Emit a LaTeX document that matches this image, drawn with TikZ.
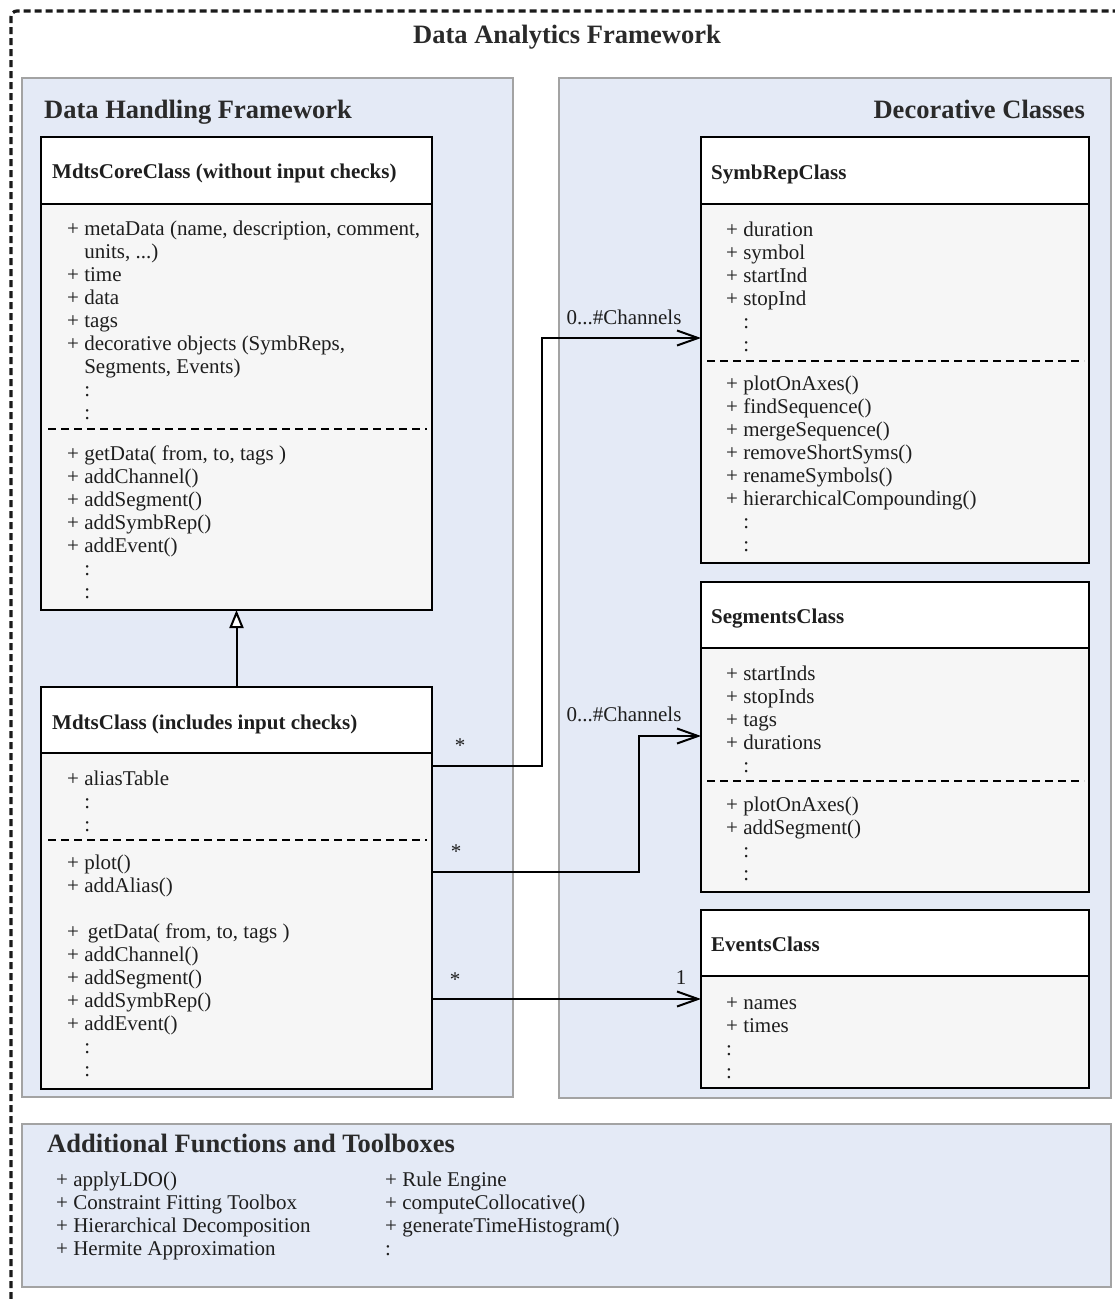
\documentclass[tikz,border=0pt]{standalone}
\usepackage{fontspec}
\setmainfont{Liberation Serif}
\usetikzlibrary{arrows.meta}

\definecolor{panelfill}{HTML}{E4EAF6}
\definecolor{panelline}{HTML}{A3A3A3}
\definecolor{bodyfill}{HTML}{F6F6F6}
\definecolor{ink}{HTML}{1E1E1E}
\definecolor{titleink}{HTML}{2A2A2A}
\definecolor{frameink}{HTML}{1A1A1A}

% blank space the width of "+ ", for continuation lines
\newcommand\hangplus{\phantom{+\ }}
% three full stops, kept out of \foreach's range syntax
\newcommand\tripledot{...}

\tikzset{
  panel/.style={draw=panelline, line width=1.5pt, fill=panelfill, anchor=north west, inner sep=0pt, outer sep=0pt},
  classbox/.style={draw=black, line width=2.4pt, fill=bodyfill, anchor=north west, inner sep=0pt, outer sep=0pt},
  classhead/.style={draw=black, line width=2.4pt, fill=white, anchor=north west, inner sep=0pt, outer sep=0pt},
  txt/.style={font=\fontsize{21}{23}\selectfont, text=ink, anchor=base west, inner sep=0pt},
  headtxt/.style={font=\fontsize{21}{23}\selectfont\bfseries, text=ink, anchor=base west, inner sep=0pt},
  bigtitle/.style={font=\fontsize{26.5}{30}\selectfont\bfseries, text=titleink, inner sep=0pt},
  multlabel/.style={font=\fontsize{21}{23}\selectfont, text=ink, anchor=base, inner sep=0pt},
  compsep/.style={line width=2pt, dash pattern=on 8pt off 5pt},
  assoc/.style={line width=2pt, -{Straight Barb[length=21pt,width=15pt]}},
  inherit/.style={line width=2pt, -{Triangle[open,length=18pt,width=14pt,fill=white]}},
  outerframe/.style={draw=frameink, line width=3.2pt, dash pattern=on 7pt off 4pt, rounded corners=6pt},
}

% member lines: name prefix, x, first baseline, list of lines
\newcommand\memberlines[4]{%
  \foreach \t [count=\i from 0] in {#4}
    \node[txt] (#1\i) at (#2,{#3+23*\i}) {\t};}

\begin{document}
\begin{tikzpicture}[x=1pt,y=-1pt]
\useasboundingbox (0,0) rectangle (1115,1299);
\fill[white] (0,0) rectangle (1115,1299);

% framework frame and title
\draw[outerframe] (11,1299) -- (11,11) -- (1115,11);
\node[bigtitle, anchor=base] (maintitle) at (567,43) {Data Analytics Framework};

% panels
\node[panel, minimum width=491pt, minimum height=1019pt] (leftpanel) at (22,78) {};
\node[panel, minimum width=552pt, minimum height=1020pt] (rightpanel) at (559,78) {};
\node[panel, minimum width=1089pt, minimum height=163pt] (extrapanel) at (22,1124) {};

\node[bigtitle, anchor=base west] (lefttitle) at (44,118) {Data Handling Framework};
\node[bigtitle, anchor=base east] (righttitle) at (1085,118) {Decorative Classes};
\node[bigtitle, anchor=base west] (extratitle) at (47,1152) {Additional Functions and Toolboxes};

% ---------------- MdtsCoreClass
\node[classbox, minimum width=391pt, minimum height=473pt] (core) at (41,137) {};
\node[classhead, minimum width=391pt, minimum height=67pt] (corehead) at (41,137) {};
\node[headtxt] (coretitle) at (52,178) {MdtsCoreClass (without input checks)};
\memberlines{corea}{67}{235}{{+ metaData (name, description, comment,},{\hangplus units, \tripledot)},{+ time},{+ data},{+ tags},{+ decorative objects (SymbReps,},{\hangplus Segments, Events)},{\hangplus :},{\hangplus :}}
\draw[compsep] ([xshift=7pt,yshift=-292pt]core.north west) -- ([xshift=-5pt,yshift=-292pt]core.north east);
\memberlines{corem}{67}{460}{{+ getData( from, to, tags )},{+ addChannel()},{+ addSegment()},{+ addSymbRep()},{+ addEvent()},{\hangplus :},{\hangplus :}}

% ---------------- MdtsClass
\node[classbox, minimum width=391pt, minimum height=402pt] (mdts) at (41,687) {};
\node[classhead, minimum width=391pt, minimum height=66pt] (mdtshead) at (41,687) {};
\node[headtxt] (mdtstitle) at (52,729) {MdtsClass (includes input checks)};
\memberlines{mdtsa}{67}{785}{{+ aliasTable},{\hangplus :},{\hangplus :}}
\draw[compsep] ([xshift=7pt,yshift=-153pt]mdts.north west) -- ([xshift=-5pt,yshift=-153pt]mdts.north east);
\memberlines{mdtsm}{67}{869}{{+ plot()},{+ addAlias()}}
\memberlines{mdtsn}{67}{938}{{+\ \,getData( from, to, tags )},{+ addChannel()},{+ addSegment()},{+ addSymbRep()},{+ addEvent()},{\hangplus :},{\hangplus :}}

% ---------------- SymbRepClass
\node[classbox, minimum width=388pt, minimum height=426pt] (symb) at (701,137) {};
\node[classhead, minimum width=388pt, minimum height=67pt] (symbhead) at (701,137) {};
\node[headtxt] (symbtitle) at (711,179) {SymbRepClass};
\memberlines{symba}{726}{236}{{+ duration},{+ symbol},{+ startInd},{+ stopInd},{\hangplus :},{\hangplus :}}
\draw[compsep] ([xshift=6pt,yshift=-224pt]symb.north west) -- ([xshift=-5pt,yshift=-224pt]symb.north east);
\memberlines{symbm}{726}{390}{{+ plotOnAxes()},{+ findSequence()},{+ mergeSequence()},{+ removeShortSyms()},{+ renameSymbols()},{+ hierarchicalCompounding()},{\hangplus :},{\hangplus :}}

% ---------------- SegmentsClass
\node[classbox, minimum width=388pt, minimum height=310pt] (seg) at (701,582) {};
\node[classhead, minimum width=388pt, minimum height=66pt] (seghead) at (701,582) {};
\node[headtxt] (segtitle) at (711,623) {SegmentsClass};
\memberlines{sega}{726}{680}{{+ startInds},{+ stopInds},{+ tags},{+ durations},{\hangplus :}}
\draw[compsep] ([xshift=6pt,yshift=-199pt]seg.north west) -- ([xshift=-5pt,yshift=-199pt]seg.north east);
\memberlines{segm}{726}{811}{{+ plotOnAxes()},{+ addSegment()},{\hangplus :},{\hangplus :}}

% ---------------- EventsClass
\node[classbox, minimum width=388pt, minimum height=178pt] (events) at (701,910) {};
\node[classhead, minimum width=388pt, minimum height=66pt] (eventshead) at (701,910) {};
\node[headtxt] (eventstitle) at (711,951) {EventsClass};
\memberlines{eventsa}{726}{1009}{{+ names},{+ times},{:},{:}}

% ---------------- additional functions
\memberlines{extraa}{56}{1186}{{+ applyLDO()},{+ Constraint Fitting Toolbox},{+ Hierarchical Decomposition},{+ Hermite Approximation}}
\memberlines{extrab}{385}{1186}{{+ Rule Engine},{+ computeCollocative()},{+ generateTimeHistogram()},{:}}

% ---------------- relations
\draw[inherit] (mdts.north) -- (core.south);

\coordinate (bendsymb) at (542,338);
\coordinate (bendseg) at (639,736);
\draw[assoc] ([yshift=-79pt]mdts.north east) -| (bendsymb) -- ([yshift=-201pt]symb.north west);
\draw[assoc] ([yshift=-185pt]mdts.north east) -| (bendseg) -- ([yshift=-154pt]seg.north west);
\draw[assoc] ([yshift=-312pt]mdts.north east) -- ([yshift=-89pt]events.north west);

\node[multlabel] (mulsymb) at (624,324) {0...\#Channels};
\node[multlabel] (mulseg) at (624,721) {0...\#Channels};
\node[multlabel] (mulevents) at (681,984) {1};
\node[multlabel] (starsymb) at (460,752) {*};
\node[multlabel] (starseg) at (456,858) {*};
\node[multlabel] (starevents) at (455,986) {*};
\end{tikzpicture}
\end{document}
